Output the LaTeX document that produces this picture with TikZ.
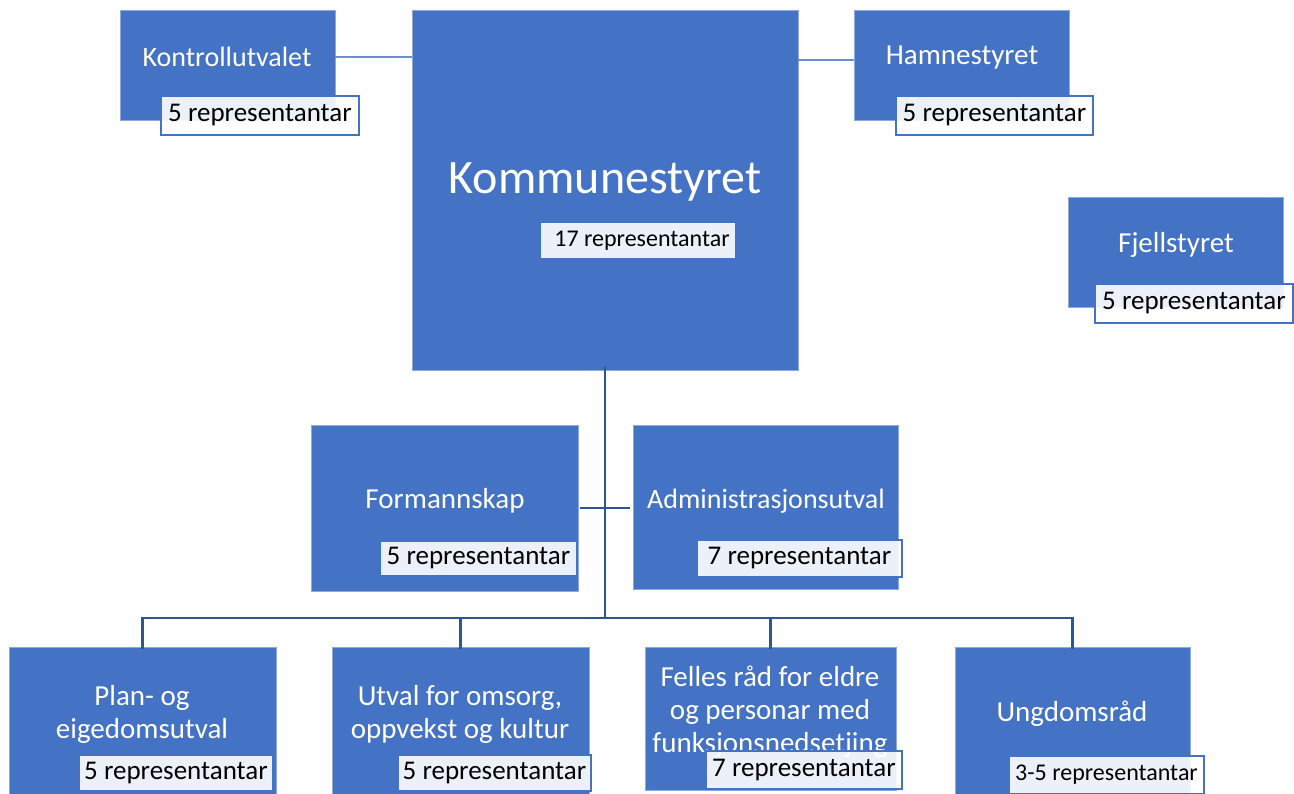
\documentclass[tikz,border=0pt]{standalone}
\usepackage{fontspec}
\setmainfont{Carlito}
\definecolor{boxblue}{HTML}{4472C4}
\definecolor{boxedge}{HTML}{8EA9DB}
\definecolor{thinline}{HTML}{6A8FD0}
\definecolor{treeline}{HTML}{2F5597}
\begin{document}
\begin{tikzpicture}[x=1pt,y=-1pt,
  orgbox/.style={rectangle, fill=boxblue, draw=boxedge, line width=0.7pt, inner sep=0pt},
  title/.style={text=white, font=\fontsize{29}{33}\selectfont, align=center, inner sep=0pt},
  replabel/.style={rectangle, fill=white, fill opacity=0.9, text opacity=1, draw=boxblue, line width=1.8pt, text=black, inner sep=0pt, font=\fontsize{27}{30}\selectfont},
  thin/.style={draw=thinline, line width=1.3pt},
  tree/.style={draw=treeline, line width=2.6pt}]
\useasboundingbox (0,0) rectangle (1294,794);
\clip (0,0) rectangle (1294,794);
% top row
\node[orgbox, minimum width=215, minimum height=110] (kontroll) at (227.5,65) {};
\node[title, font=\fontsize{28}{33}\selectfont] (tkontroll) at (227,57) {Kontrollutvalet};
\node[orgbox, minimum width=386, minimum height=360] (kommune) at (605,190) {};
\node[title, font=\fontsize{48}{52}\selectfont] (tkommune) at (605,182) {Kommunestyret};
\node[orgbox, minimum width=215, minimum height=110] (hamne) at (961.5,65) {};
\node[title] (thamne) at (962,58) {Hamnestyret};
\node[orgbox, minimum width=215, minimum height=110] (fjell) at (1175.5,252) {};
\node[title] (tfjell) at (1176,245) {Fjellstyret};
% middle
\node[orgbox, minimum width=267, minimum height=166] (forman) at (444.5,508) {};
\node[title] (tforman) at (445,501) {Formannskap};
\node[orgbox, minimum width=265, minimum height=164] (admin) at (765.5,507) {};
\node[title, font=\fontsize{28}{33}\selectfont] (tadmin) at (766,501) {Administrasjonsutval};
% bottom
\node[orgbox, minimum width=267, minimum height=170] (plan) at (142.5,732) {};
\node[title] (tplan) at (142,714) {Plan- og\\eigedomsutval};
\node[orgbox, minimum width=257, minimum height=170] (utval) at (460.5,732) {};
\node[title] (tutval) at (460,714) {Utval for omsorg,\\oppvekst og kultur};
\node[orgbox, minimum width=251, minimum height=143] (felles) at (770.5,718.5) {};
\node[title] (tfelles) at (770,712) {Felles råd for eldre\\og personar med\\funksjonsnedsetjing};
\node[orgbox, minimum width=235, minimum height=170] (ungdom) at (1072.5,732) {};
\node[title] (tungdom) at (1072,714) {Ungdomsråd};
% labels
\node[replabel, minimum width=198, minimum height=39] (lkontroll) at (260,115.5) {5 representantar};
\node[replabel, draw=none, minimum width=194, minimum height=35, font=\fontsize{24}{28}\selectfont] (lkommune) at (638,240.5) {\hspace*{8pt}17 representantar};
\node[replabel, minimum width=197, minimum height=39] (lhamne) at (994.5,115.5) {5 representantar};
\node[replabel, minimum width=198, minimum height=39] (lfjell) at (1194,303.5) {5 representantar};
\node[replabel, minimum width=197, minimum height=35] (lforman) at (478.5,558.5) {5 representantar};
\node[replabel, minimum width=205, minimum height=37] (ladmin) at (799.5,558.5) {7 representantar};
\node[replabel, minimum width=194, minimum height=36] (lplan) at (176,773) {5 representantar};
\node[replabel, minimum width=193, minimum height=36] (lutval) at (494.5,773) {5 representantar};
\node[replabel, minimum width=196, minimum height=38] (lfelles) at (804,770) {7 representantar};
\node[replabel, minimum width=195, minimum height=38, font=\fontsize{24}{28}\selectfont] (lungdom) at (1106.5,775) {3-5 representantar};
% connectors
\draw[thin] (kontroll.east |- tkontroll) -- (kommune.west |- tkontroll);
\draw[thin] ([yshift=5]kommune.east |- hamne.west) -- ([yshift=5]hamne.west);
\coordinate (bus) at (605,618);
\draw[tree] ([yshift=3]kommune.south) -- (bus);
\draw[tree] ([xshift=2]forman.east) -- ([xshift=-3]admin.west |- forman.east);
\draw[tree, line cap=rect] (plan.north |- bus) -- (ungdom.north |- bus);
\foreach \b in {plan,utval,felles,ungdom}
  \draw[tree] (\b.north |- bus) -- ([yshift=-2]\b.north);
\end{tikzpicture}
\end{document}
